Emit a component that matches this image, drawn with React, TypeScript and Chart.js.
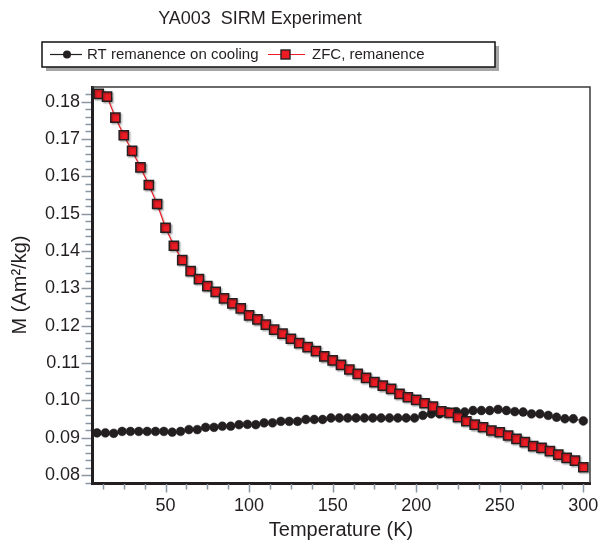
import React, { useEffect, useRef } from 'react';
import { Chart, registerables } from 'chart.js';

Chart.register(...registerables);

const TITLE = 'YA003  SIRM Experiment';
const X_LABEL = 'Temperature (K)';
const Y_LABEL = 'M (Am\u00B2/kg)';
const SERIES_NAMES = ['RT remanence on cooling', 'ZFC, remanence'];

const X_TICKS = [50, 100, 150, 200, 250, 300];
const Y_TICKS = [0.08, 0.09, 0.1, 0.11, 0.12, 0.13, 0.14, 0.15, 0.16, 0.17, 0.18];
const X_MIN = 6;
const X_MAX = 304;
const Y_MIN = 0.0779;
const Y_MAX = 0.1839;
const X_MINOR_STEP = 12.5;
const Y_MINOR_STEP = 0.002;

const RT_TEMPS = [
  9, 14, 19, 24, 29, 34, 39, 44, 49, 54, 59, 64, 69, 74, 79, 84, 89, 94, 99, 104,
  109, 114, 119, 124, 129, 134, 139, 144, 149, 154, 159, 164, 169, 174, 179, 184, 189, 194, 199, 204,
  209, 214, 219, 224, 229, 234, 239, 244, 249, 254, 259, 264, 269, 274, 279, 284, 289, 294, 300,
];
const RT_VALUES = [
  0.0913, 0.0913, 0.0912, 0.0917, 0.0917, 0.0917, 0.0917, 0.0917, 0.0917, 0.0915,
  0.0917, 0.0922, 0.0922, 0.0928, 0.0928, 0.0931, 0.0931, 0.0935, 0.0936, 0.0935,
  0.094, 0.094, 0.0944, 0.0944, 0.0944, 0.0949, 0.0949, 0.0949, 0.0953, 0.0953,
  0.0953, 0.0953, 0.0953, 0.0953, 0.0953, 0.0953, 0.0953, 0.0953, 0.0953, 0.096,
  0.0964, 0.0964, 0.0969, 0.097, 0.0969, 0.0973, 0.0973, 0.0973, 0.0976, 0.0973,
  0.097, 0.0969, 0.0964, 0.0964, 0.096, 0.0955, 0.0951, 0.0951, 0.0945,
];

const ZFC_TEMPS = [
  10, 15, 20, 25, 30, 35, 40, 45, 50, 55, 60, 65, 70, 75, 80, 85, 90, 95, 100, 105,
  110, 115, 120, 125, 130, 135, 140, 145, 150, 155, 160, 165, 170, 175, 180, 185, 190, 195, 200, 205,
  210, 215, 220, 225, 230, 235, 240, 245, 250, 255, 260, 265, 270, 275, 280, 285, 290, 295, 300,
];
const ZFC_VALUES = [
  0.18206, 0.18134, 0.17571, 0.17099, 0.16678, 0.16241, 0.15767, 0.15258, 0.14623, 0.14141,
  0.13757, 0.13463, 0.13248, 0.13061, 0.12908, 0.12731, 0.12597, 0.12463, 0.12276, 0.12169,
  0.12027, 0.11893, 0.11786, 0.11652, 0.11534, 0.11426, 0.11319, 0.11177, 0.1107, 0.10954,
  0.10828, 0.10713, 0.10606, 0.10488, 0.10399, 0.10311, 0.10177, 0.10086, 0.10016, 0.09925,
  0.09836, 0.09711, 0.09668, 0.0955, 0.09443, 0.09354, 0.09283, 0.09195, 0.09149, 0.09061,
  0.08972, 0.08882, 0.08775, 0.08732, 0.08641, 0.08552, 0.08464, 0.08391, 0.08212,
];

const FONT = "'Liberation Sans', Arial, Helvetica, sans-serif";
const TEXT = '#231f20';
const TICK_COLOR = '#8a97a3';
const BLACK = '#231f20';
const RED = '#ed1c24';

const shadowPlugin = {
  id: 'squareShadow',
  beforeDatasetDraw(chart: any, args: any) {
    if (args.index !== 1) return;
    const ctx = chart.ctx;
    ctx.save();
    ctx.shadowColor = 'rgba(0,0,0,0.28)';
    ctx.shadowOffsetX = 1.5;
    ctx.shadowOffsetY = 1.5;
    ctx.shadowBlur = 1.5;
  },
  afterDatasetDraw(chart: any, args: any) {
    if (args.index !== 1) return;
    chart.ctx.restore();
  },
};

const decorPlugin = {
  id: 'decor',
  afterDraw(chart: any) {
    const ctx = chart.ctx;
    const { left, right, top, bottom } = chart.chartArea;
    const xs = chart.scales.x;
    const ys = chart.scales.y;
    ctx.save();

    // top / right frame
    ctx.strokeStyle = '#3a3a3a';
    ctx.lineWidth = 1.5;
    ctx.beginPath();
    ctx.moveTo(left, top);
    ctx.lineTo(right, top);
    ctx.lineTo(right, bottom);
    ctx.stroke();

    // ticks
    ctx.strokeStyle = TICK_COLOR;
    ctx.lineWidth = 1.5;
    const isMajor = (v: number, arr: number[]) => arr.some((t) => Math.abs(t - v) < 1e-9);
    for (let k = Math.ceil(Y_MIN / Y_MINOR_STEP - 1e-9); k * Y_MINOR_STEP <= Y_MAX + 1e-12; k++) {
      const v = +(k * Y_MINOR_STEP).toFixed(4);
      if (v < Y_MIN) continue;
      const y = Math.round(ys.getPixelForValue(v)) + 0.5;
      const len = isMajor(v, Y_TICKS) ? 9 : 5;
      ctx.beginPath();
      ctx.moveTo(left - 1.5 - len, y);
      ctx.lineTo(left - 1, y);
      ctx.stroke();
    }
    for (let k = Math.ceil(X_MIN / X_MINOR_STEP); k * X_MINOR_STEP <= X_MAX; k++) {
      const v = k * X_MINOR_STEP;
      const x = Math.round(xs.getPixelForValue(v)) + 0.5;
      const len = isMajor(v, X_TICKS) ? 8 : 5;
      ctx.beginPath();
      ctx.moveTo(x, bottom + 1);
      ctx.lineTo(x, bottom + 1.5 + len);
      ctx.stroke();
    }

    // title
    ctx.fillStyle = TEXT;
    ctx.font = `18px ${FONT}`;
    ctx.textAlign = 'center';
    ctx.textBaseline = 'alphabetic';
    ctx.fillText(TITLE, 260, 23.5);

    // legend box
    const bx = 42, by = 42, bw = 453, bh = 25;
    ctx.fillStyle = '#a6a6a6';
    ctx.fillRect(bx + 4, by + 4, bw, bh);
    ctx.fillStyle = '#ffffff';
    ctx.fillRect(bx, by, bw, bh);
    ctx.strokeStyle = '#111111';
    ctx.lineWidth = 1.5;
    ctx.strokeRect(bx, by, bw, bh);

    const ly = by + bh / 2;
    ctx.strokeStyle = BLACK;
    ctx.lineWidth = 1.2;
    ctx.beginPath();
    ctx.moveTo(50, ly);
    ctx.lineTo(82, ly);
    ctx.stroke();
    ctx.fillStyle = BLACK;
    ctx.beginPath();
    ctx.arc(67, ly, 4, 0, Math.PI * 2);
    ctx.fill();
    ctx.strokeStyle = RED;
    ctx.beginPath();
    ctx.moveTo(268, ly);
    ctx.lineTo(305, ly);
    ctx.stroke();
    ctx.fillStyle = RED;
    ctx.fillRect(281, ly - 4.5, 9, 9);
    ctx.strokeStyle = BLACK;
    ctx.lineWidth = 1.4;
    ctx.strokeRect(281, ly - 4.5, 9, 9);

    ctx.fillStyle = TEXT;
    ctx.font = `15px ${FONT}`;
    ctx.textAlign = 'left';
    ctx.textBaseline = 'middle';
    ctx.fillText(SERIES_NAMES[0], 87, ly + 0.5);
    ctx.fillText(SERIES_NAMES[1], 312, ly + 0.5);
    ctx.restore();
  },
};

export default function App() {
  const canvasRef = useRef<HTMLCanvasElement | null>(null);

  useEffect(() => {
    const canvas = canvasRef.current;
    if (!canvas) return;
    const chart = new Chart(canvas, {
      type: 'scatter',
      data: {
        datasets: [
          {
            label: SERIES_NAMES[0],
            data: RT_TEMPS.map((t, i) => ({ x: t, y: RT_VALUES[i] })),
            showLine: true,
            borderColor: BLACK,
            borderWidth: 1,
            backgroundColor: BLACK,
            pointBackgroundColor: BLACK,
            pointBorderColor: BLACK,
            pointBorderWidth: 0.5,
            pointRadius: 4.4,
            pointStyle: 'circle',
            order: 1,
          },
          {
            label: SERIES_NAMES[1],
            data: ZFC_TEMPS.map((t, i) => ({ x: t, y: ZFC_VALUES[i] })),
            showLine: true,
            borderColor: RED,
            borderWidth: 1.2,
            backgroundColor: RED,
            pointBackgroundColor: RED,
            pointBorderColor: BLACK,
            pointBorderWidth: 1.5,
            pointRadius: 6.5,
            pointStyle: 'rect',
            order: 0,
          },
        ],
      },
      options: {
        responsive: false,
        animation: false,
        devicePixelRatio: 1,
        layout: { padding: { top: 87, right: 11, left: 0, bottom: 0 } },
        plugins: {
          legend: { display: false },
          title: { display: false },
          tooltip: { enabled: false },
        },
        elements: { line: { tension: 0 } },
        scales: {
          x: {
            type: 'linear',
            min: X_MIN,
            max: X_MAX,
            afterFit: (s: any) => {
              s.height = 63;
              s.paddingLeft = 0;
              s.paddingRight = 0;
            },
            afterBuildTicks: (s: any) => {
              s.ticks = X_TICKS.map((v) => ({ value: v }));
            },
            grid: { display: true, drawOnChartArea: false, drawTicks: false },
            border: { display: true, color: BLACK, width: 3 },
            ticks: {
              padding: 12,
              color: TEXT,
              font: { family: FONT, size: 18 },
              maxRotation: 0,
              autoSkip: false,
              callback: (v: any) => String(v),
            },
            title: {
              display: true,
              text: X_LABEL,
              color: TEXT,
              font: { family: FONT, size: 20 },
              padding: { top: 0, bottom: 4 },
            },
          },
          y: {
            type: 'linear',
            min: Y_MIN,
            max: Y_MAX,
            afterFit: (s: any) => {
              s.width = 92;
              s.paddingTop = 0;
              s.paddingBottom = 0;
            },
            afterBuildTicks: (s: any) => {
              s.ticks = Y_TICKS.map((v) => ({ value: v }));
            },
            grid: { display: true, drawOnChartArea: false, drawTicks: false },
            border: { display: true, color: BLACK, width: 3 },
            ticks: {
              padding: 12,
              color: TEXT,
              font: { family: FONT, size: 18 },
              autoSkip: false,
              callback: (v: any) => Number(v).toFixed(2),
            },
            title: {
              display: true,
              text: Y_LABEL,
              color: TEXT,
              font: { family: FONT, size: 20 },
              padding: { top: 8, bottom: 0 },
            },
          },
        },
      },
      plugins: [shadowPlugin, decorPlugin],
    });
    return () => chart.destroy();
  }, []);

  return (
    <div style={{ position: 'fixed', left: 0, top: 0, width: 601, height: 546, background: '#fff' }}>
      <canvas ref={canvasRef} width={601} height={546} style={{ display: 'block' }} />
    </div>
  );
}
